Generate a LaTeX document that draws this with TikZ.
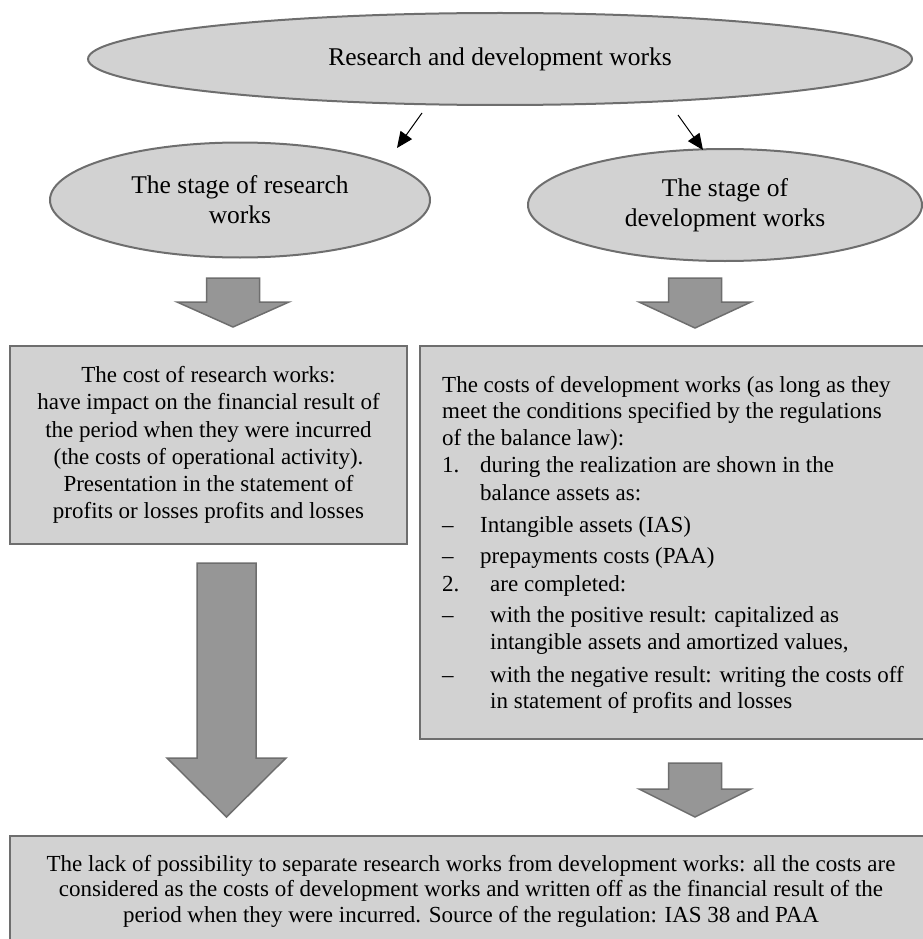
\documentclass[tikz,border=0pt]{standalone}
\usepackage{fontspec}
\setmainfont{Liberation Serif}
\usetikzlibrary{arrows.meta,shapes.geometric}
\definecolor{boxfill}{RGB}{210,210,210}
\definecolor{edgegray}{RGB}{110,110,110}
\definecolor{arrfill}{RGB}{150,150,150}
\newcommand\boxfont{\fontsize{23}{27.3}\selectfont}
\newcommand\botfont{\fontsize{23}{25.5}\selectfont}
\newcommand\ellfont{\fontsize{25.5}{30}\selectfont}
\newcommand\blockarr[6]{\draw[blk] ({#1-#5},#2) -- ({#1+#5},#2) -- ({#1+#5},#3) -- ({#1+#6},#3) -- (#1,#4) -- ({#1-#6},#3) -- ({#1-#5},#3) -- cycle;}
\begin{document}
\begin{tikzpicture}[x=1pt,y=-1pt,
  oval/.style={ellipse, draw=edgegray, fill=boxfill, line width=2pt, inner sep=0pt, align=center, font=\ellfont},
  box/.style={rectangle, draw=edgegray, fill=boxfill, line width=2pt, inner sep=0pt, align=center, font=\boxfont},
  txtline/.style={anchor=base west, inner sep=0pt, font=\boxfont},
  blk/.style={draw=edgegray, fill=arrfill, line width=1.5pt, line join=miter},
  conn/.style={-{Triangle[length=16pt,width=14pt]}, line width=1pt, black}]
\useasboundingbox (0,0) rectangle (922,939);

% ellipses
\node[oval, minimum width=824, minimum height=92] (top) at (500,59) {Research and development works};
\node[oval, minimum width=380, minimum height=115] (res) at (240,200) {The stage of research\\works};
\node[oval, minimum width=394, minimum height=112] (dev) at (725,205) {The stage of\\development works};

% thin connectors
\coordinate (c1a) at (422,113); \coordinate (c1b) at (397,148);
\coordinate (c2a) at (678,115); \coordinate (c2b) at (703,150);
\draw[conn] (c1a) -- (c1b);
\draw[conn] (c2a) -- (c2b);

% boxes
\node[box, minimum width=397, minimum height=198] (lbox) at (208.5,445)
 {The cost of research works:\\have impact on the financial result of\\the period when they were incurred\\(the costs of operational activity).\\Presentation in the statement of\\profits or losses profits and losses};
\node[box, minimum width=512, minimum height=393] (rbox) at (676,542.5) {};
\node[box, font=\botfont, minimum width=922, minimum height=110] (bbox) at (471,891)
 {The lack of possibility to separate research works from development works: all the costs are\\considered as the costs of development works and written off as the financial result of the\\period when they were incurred. Source of the regulation: IAS 38 and PAA};

% right box text
\node[txtline] (r1) at (442,392) {The costs of development works (as long as they};
\node[txtline] (r2) at (442,418) {meet the conditions specified by the regulations};
\node[txtline] (r3) at (442,445) {of the balance law):};
\node[txtline] (r4m) at (442,472) {1.};
\node[txtline] (r4) at (480,472) {during the realization are shown in the};
\node[txtline] (r5) at (480,500) {balance assets as:};
\node[txtline] (r6m) at (442,532) {\textendash};
\node[txtline] (r6) at (480,532) {Intangible assets (IAS)};
\node[txtline] (r7m) at (442,563) {\textendash};
\node[txtline] (r7) at (480,563) {prepayments costs (PAA)};
\node[txtline] (r8m) at (442,591) {2.};
\node[txtline] (r8) at (490,591) {are completed:};
\node[txtline] (r9m) at (442,622) {\textendash};
\node[txtline] (r9) at (490,622) {with the positive result: capitalized as};
\node[txtline] (r10) at (490,649) {intangible assets and amortized values,};
\node[txtline] (r11m) at (442,682) {\textendash};
\node[txtline] (r11) at (490,682) {with the negative result: writing the costs off};
\node[txtline] (r12) at (490,708) {in statement of profits and losses};

% block arrows
\blockarr{233}{278}{302}{327}{26.5}{56}
\blockarr{695}{278}{302}{328}{26.5}{56}
\blockarr{226.5}{563}{758}{817}{29.5}{59.5}
\blockarr{695}{763}{789}{817}{26.5}{56}
\end{tikzpicture}
\end{document}
